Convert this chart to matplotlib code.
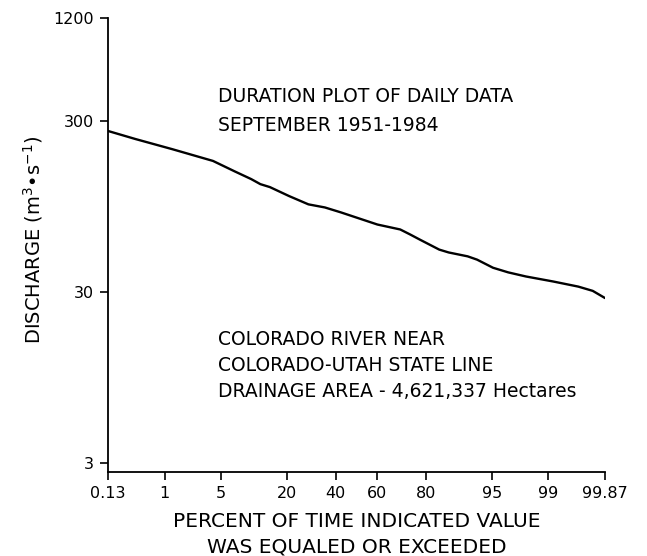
import numpy as np
import matplotlib
matplotlib.use("Agg")
import matplotlib.pyplot as plt
from matplotlib.ticker import FixedLocator, NullLocator
from statistics import NormalDist

# ---- data ----
percent_exceeded = [0.13, 0.37, 1.28, 4.1, 7.0, 10.1, 12.2, 14.7, 20.7, 28.0, 35.1,
                    42.5, 60.0, 70.2, 74.2, 77.9, 84.2, 86.8, 91.1, 92.8, 95.1,
                    96.7, 98.0, 99.14, 99.64, 99.79, 99.87]
discharge = [262, 235, 205, 175, 152, 137, 128, 123, 109, 97.5, 93.5,
             87.5, 74.3, 69.5, 65, 60.6, 53, 51, 48.4, 46.3, 41.5,
             39, 36.9, 34.5, 32.2, 30.4, 27.6]

x_ticks = [0.13, 1, 5, 20, 40, 60, 80, 95, 99, 99.87]
x_tick_labels = ["0.13", "1", "5", "20", "40", "60", "80", "95", "99", "99.87"]
y_ticks = [3, 30, 300, 1200]
y_tick_labels = ["3", "30", "300", "1200"]

title_lines = ["DURATION PLOT OF DAILY DATA", "SEPTEMBER 1951-1984"]
station_lines = ["COLORADO RIVER NEAR", "COLORADO-UTAH STATE LINE",
                 "DRAINAGE AREA - 4,621,337 Hectares"]

# ---- probability scale ----
_nd = NormalDist()
_ppf = np.vectorize(lambda p: _nd.inv_cdf(p), otypes=[float])
_cdf = np.vectorize(lambda z: _nd.cdf(z), otypes=[float])

def fwd(p):
    p = np.clip(np.asarray(p, dtype=float) / 100.0, 1e-9, 1 - 1e-9)
    return _ppf(p)

def inv(z):
    return _cdf(np.asarray(z, dtype=float)) * 100.0

plt.rcParams['font.family'] = ['DejaVu Sans']

fig = plt.figure(figsize=(6.47, 5.56), dpi=100)
ax = fig.add_axes([108/647, 1 - 472/556, (605-108)/647, (472-18)/556])

ax.set_xscale('function', functions=(fwd, inv))
ax.set_yscale('log')

ax.plot(percent_exceeded, discharge, color='black', lw=1.7,
        solid_capstyle='round', solid_joinstyle='round')

ax.set_xlim(0.13, 99.87)
ax.set_ylim(2.65, 1200)

ax.xaxis.set_major_locator(FixedLocator(x_ticks))
ax.xaxis.set_minor_locator(NullLocator())
ax.set_xticklabels(x_tick_labels)
ax.yaxis.set_major_locator(FixedLocator(y_ticks))
ax.yaxis.set_minor_locator(NullLocator())
ax.set_yticklabels(y_tick_labels)

for s in ['top', 'right']:
    ax.spines[s].set_visible(False)
for s in ['left', 'bottom']:
    ax.spines[s].set_linewidth(1.3)

ax.tick_params(axis='both', direction='out', length=6, width=1.2,
               labelsize=11.5, colors='black', pad=4)

ax.set_xlabel("PERCENT OF TIME INDICATED VALUE\nWAS EQUALED OR EXCEEDED",
              fontsize=14.5, linespacing=1.45)
ax.xaxis.set_label_coords(0.5, -0.088)
ax.set_ylabel("DISCHARGE (m$^{3}$•s$^{-1}$)", fontsize=14)
ax.yaxis.set_label_coords(-0.127, 0.512)

tx = (218 - 108) / 497
for i, line in enumerate(title_lines):
    ax.text(tx, 0.826 - i * 0.062, line, transform=ax.transAxes,
            fontsize=13.5, va='center', ha='left')
for i, line in enumerate(station_lines):
    ax.text(tx, 0.291 - i * 0.057, line, transform=ax.transAxes,
            fontsize=13.5, va='center', ha='left')

fig.savefig("out.png", dpi=100)
